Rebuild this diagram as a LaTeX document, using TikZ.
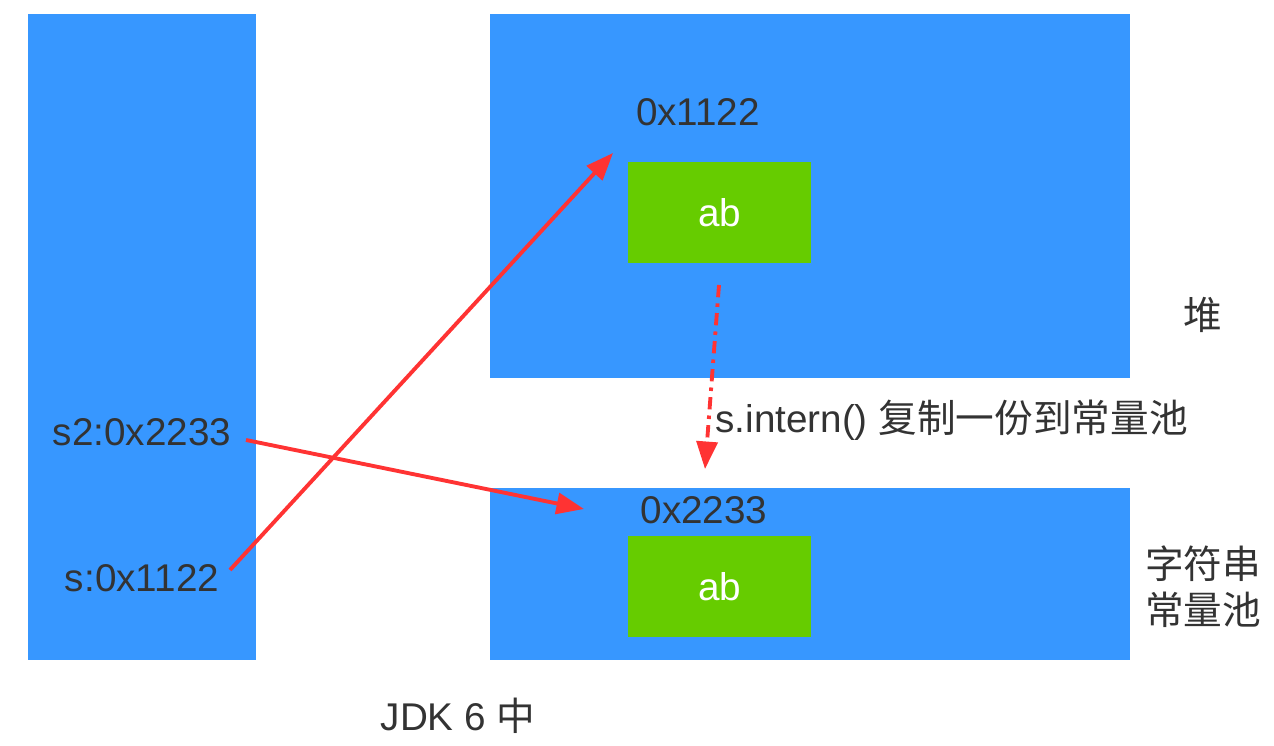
\documentclass[tikz,border=0pt]{standalone}
\usepackage{fontspec}
\setmainfont{Liberation Sans}
\newfontfamily\cjk{Noto Sans CJK SC}
\usepackage{tikz}
\usetikzlibrary{calc}
\usetikzlibrary{arrows.meta, shapes}

\definecolor{memblue}{HTML}{3797FF}
\definecolor{strgreen}{HTML}{66CC00}
\definecolor{refred}{HTML}{FF3333}
\definecolor{txtgray}{HTML}{333333}

\begin{document}
\begin{tikzpicture}[x = 0.02cm, y = -0.02cm]

\tikzstyle{area_M}=[rectangle, fill=memblue, inner sep=0pt]
\tikzstyle{string_S}=[rectangle, fill=strgreen, minimum width=3.66cm, minimum height=2.02cm, text=white, font=\fontsize{22}{26}\selectfont]
\tikzstyle{label_T}=[text=txtgray, font=\fontsize{22}{26}\selectfont, inner sep=0pt]
\tikzstyle{ref_A}=[-{Triangle[length=0.55cm, width=0.42cm]}, line width = 2.2pt, color = refred]

\useasboundingbox (0, 0) rectangle (1274, 746);

\coordinate (S) at (142, 337);
\coordinate (H) at (810, 196);
\coordinate (P) at (810, 574);

\path
($(S)$) node[area_M, minimum width = 4.56cm, minimum height = 12.92cm](stack) {}
($(H)$) node[area_M, minimum width = 12.8cm, minimum height = 7.28cm](heap) {}
($(P)$) node[area_M, minimum width = 12.8cm, minimum height = 3.44cm](pool) {}
(719.5, 212.5) node[string_S](heapab) {ab}
(719.5, 586.5) node[string_S](poolab) {ab};

\path
(698, 112) node[label_T](heapaddr) {0x1122}
(704, 510) node[label_T](pooladdr) {0x2233}
(142, 432) node[label_T](s2ref) {s2:0x2233}
(142, 578) node[label_T](sref) {s:0x1122}
(1203, 315) node[label_T](heaplabel) {\cjk 堆}
(1203, 587) node[label_T, align=center, font=\fontsize{22}{26}\selectfont\cjk](poollabel) {字符串\\常量池}
(715, 420) node[label_T, anchor=west](intern) {s.intern() {\cjk 复制一份到常量池}}
(458, 716) node[label_T](jdk) {JDK 6 {\cjk 中}};

\coordinate (sout) at (230, 570);
\coordinate (heapin) at (613, 153);
\coordinate (s2out) at (246, 440);
\coordinate (poolin) at (584, 509);
\coordinate (about) at (719, 285);
\coordinate (abin) at (705, 469);

%reference arrows
\draw[ref_A] (sout) to (heapin);
\draw[ref_A] (s2out) to (poolin);

%intern copy
\draw[ref_A, dash pattern = on 7pt off 3.5pt on 2pt off 3.5pt] (about) to (abin);

\end{tikzpicture}
\end{document}
